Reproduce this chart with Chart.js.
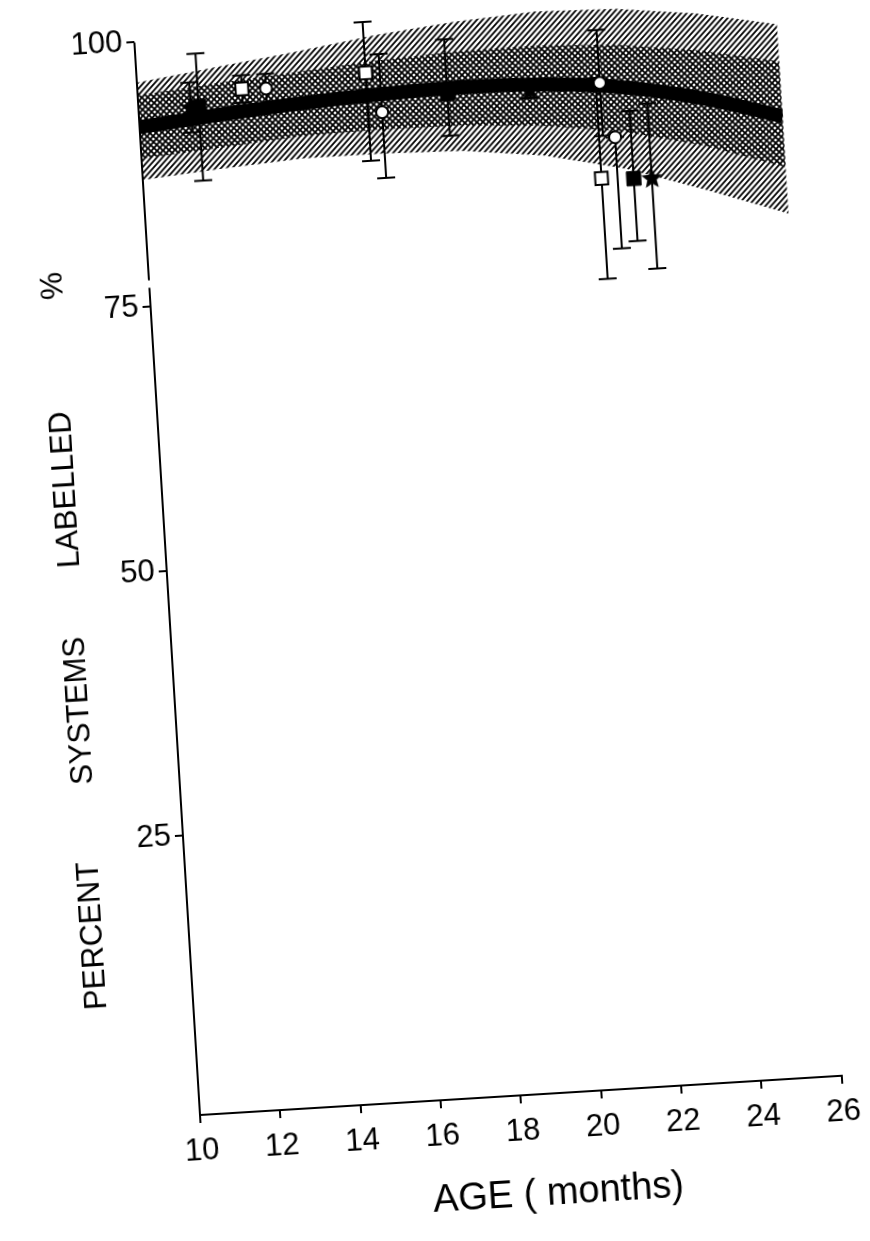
<!DOCTYPE html>
<html>
<head>
<meta charset="utf-8">
<script src="https://cdn.jsdelivr.net/npm/chart.js@4.4.1/dist/chart.umd.min.js"></script>
<style>
  html, body { margin: 0; padding: 0; background: #fff; overflow: hidden; }
  /* la figura original viene escaneada algo girada */
  #marco { position: absolute; left: 0; top: 0; width: 870px; height: 1241px;
           transform: rotate(-3.5deg); transform-origin: 200px 1115px; }
</style>
</head>
<body>
<div id="marco"><canvas id="grafico" width="870" height="1241"></canvas></div>
<script>
// Banda y curva media
const bandaX        = [10, 12, 14, 16, 18, 20, 22, 24, 26];
const curvaMedia    = [92.0, 92.7, 93.3, 93.7, 93.9, 93.7, 93.0, 91.5, 89.3];
const bandaAlta     = [96.2, 97.2, 98.2, 99.3, 100.1, 100.6, 100.4, 99.5, 98.0];
const bandaBaja     = [87.0, 87.6, 88.1, 88.1, 87.9, 87.0, 85.3, 82.8, 80.1];
const bandaIntAlta  = [95.0, 95.7, 96.3, 96.9, 97.3, 97.4, 97.0, 96.0, 94.5];
const bandaIntBaja  = [89.0, 89.6, 90.2, 90.4, 90.3, 89.8, 88.8, 87.0, 84.5];

// Puntos con barras de error
const cuadLlenoX    = [11.5, 17.7, 22.2];
const cuadLlenoY    = [93.6, 93.4, 84.3];
const cuadLlenoBajo = [86.6, 89.4, 78.4];
const cuadLlenoAlto = [98.6, 98.5, 90.7];

const cuadVacioX    = [12.6, 15.7, 21.4];
const cuadVacioY    = [95.0, 95.8, 84.5];
const cuadVacioBajo = [93.7, 87.5, 75.0];
const cuadVacioAlto = [96.3, 100.6, 94.0];

const circuloX      = [13.2, 16.05, 21.5, 21.8];
const circuloY      = [94.9, 92.0, 93.5, 88.3];
const circuloBajo   = [93.5, 85.8, 88.5, 77.8];
const circuloAlto   = [96.3, 97.5, 98.5, 88.3];

const estrellaX     = [11.3, 19.75, 22.65];
const estrellaY     = [93.5, 93.2, 84.2];
const estrellaBajo  = [91.2, 92.5, 75.7];
const estrellaAlto  = [95.9, 94.0, 91.3];

// Ejes
const ticksX = [10, 12, 14, 16, 18, 20, 22, 24, 26];
const ticksY = [25, 50, 75, 100];
const corteEjeY = [76.8, 77.5];

const puntos = (xs, ys) => xs.map((x, i) => ({ x: x, y: ys[i] }));

function trama(sentido) {
  const c = document.createElement('canvas');
  c.width = c.height = 6;
  const g = c.getContext('2d');
  g.strokeStyle = '#000';
  g.lineWidth = 1.8;
  g.beginPath();
  if (sentido > 0) {
    g.moveTo(0, 6); g.lineTo(6, 0);
    g.moveTo(-1, 1); g.lineTo(1, -1);
    g.moveTo(5, 7); g.lineTo(7, 5);
  } else {
    g.moveTo(0, 0); g.lineTo(6, 6);
    g.moveTo(-1, 5); g.lineTo(1, 7);
    g.moveTo(5, -1); g.lineTo(7, 1);
  }
  g.stroke();
  return g.createPattern(c, 'repeat');
}

function dibujoEstrella(r) {
  const c = document.createElement('canvas');
  c.width = c.height = 2 * r + 2;
  const g = c.getContext('2d');
  g.fillStyle = '#000';
  g.beginPath();
  for (let k = 0; k < 10; k++) {
    const a = -Math.PI / 2 + k * Math.PI / 5;
    const rr = k % 2 ? r * 0.45 : r;
    g.lineTo(r + 1 + rr * Math.cos(a), r + 1 + rr * Math.sin(a));
  }
  g.closePath();
  g.fill();
  return c;
}

const series = [
  { x: cuadLlenoX, bajo: cuadLlenoBajo, alto: cuadLlenoAlto },
  { x: cuadVacioX, bajo: cuadVacioBajo, alto: cuadVacioAlto },
  { x: circuloX, bajo: circuloBajo, alto: circuloAlto },
  { x: estrellaX, bajo: estrellaBajo, alto: estrellaAlto },
];

// barras de error: se pintan justo despues de la curva media
const barrasError = {
  id: 'barrasError',
  afterDatasetDraw(chart, args) {
    if (args.index !== 4) return;
    const { ctx, scales: { x, y } } = chart;
    ctx.save();
    ctx.strokeStyle = '#000';
    ctx.lineWidth = 2;
    series.forEach((s) => {
      s.x.forEach((xv, i) => {
        const px = x.getPixelForValue(xv);
        const pa = y.getPixelForValue(s.alto[i]);
        const pb = y.getPixelForValue(s.bajo[i]);
        ctx.beginPath();
        ctx.moveTo(px, pa); ctx.lineTo(px, pb);
        ctx.moveTo(px - 9, pa); ctx.lineTo(px + 9, pa);
        ctx.moveTo(px - 9, pb); ctx.lineTo(px + 9, pb);
        ctx.stroke();
      });
    });
    ctx.restore();
  },
};

// eje Y con corte
const ejeCortado = {
  id: 'ejeCortado',
  afterDatasetsDraw(chart) {
    const { ctx, scales: { y } } = chart;
    const px = y.right;
    ctx.save();
    ctx.strokeStyle = '#000';
    ctx.lineWidth = 2;
    ctx.beginPath();
    ctx.moveTo(px, y.getPixelForValue(y.min));
    ctx.lineTo(px, y.getPixelForValue(corteEjeY[0]));
    ctx.moveTo(px, y.getPixelForValue(corteEjeY[1]));
    ctx.lineTo(px, y.getPixelForValue(100));
    ctx.stroke();
    ctx.restore();
  },
};

const fuente = 'Liberation Sans, Arial, sans-serif';

new Chart(document.getElementById('grafico'), {
  type: 'line',
  data: {
    datasets: [
      { data: puntos(bandaX, bandaBaja), borderWidth: 0, pointRadius: 0, fill: false, order: 4 },
      { data: puntos(bandaX, bandaAlta), borderWidth: 0, pointRadius: 0, fill: '-1', backgroundColor: trama(1), order: 4 },
      { data: puntos(bandaX, bandaIntBaja), borderWidth: 0, pointRadius: 0, fill: false, order: 3 },
      { data: puntos(bandaX, bandaIntAlta), borderWidth: 0, pointRadius: 0, fill: '-1', backgroundColor: trama(-1), order: 3 },
      { data: puntos(bandaX, curvaMedia), borderColor: '#000', borderWidth: 14, pointRadius: 0, tension: 0.4, fill: false, order: 2 },
      { data: puntos(cuadLlenoX, cuadLlenoY), showLine: false, pointStyle: 'rect', pointRadius: 10,
        backgroundColor: '#000', borderColor: '#000', borderWidth: 1, order: 1 },
      { data: puntos(cuadVacioX, cuadVacioY), showLine: false, pointStyle: 'rect', pointRadius: 9,
        backgroundColor: '#fff', borderColor: '#000', borderWidth: 2, order: 1 },
      { data: puntos(circuloX, circuloY), showLine: false, pointStyle: 'circle', pointRadius: 6,
        backgroundColor: '#fff', borderColor: '#000', borderWidth: 2, order: 1 },
      { data: puntos(estrellaX, estrellaY), showLine: false, pointStyle: dibujoEstrella(11), order: 1 },
    ],
  },
  options: {
    responsive: false,
    animation: false,
    events: [],
    layout: { padding: { left: 70, right: 24, top: 33, bottom: 1 } },
    plugins: { legend: { display: false }, tooltip: { enabled: false } },
    scales: {
      x: {
        type: 'linear',
        min: 10,
        max: 26,
        afterBuildTicks: (s) => { s.ticks = ticksX.map((v) => ({ value: v })); },
        afterFit: (s) => { s.height = 125; },
        border: { color: '#000', width: 2 },
        grid: { drawOnChartArea: false, drawTicks: true, tickLength: 8, color: '#000', lineWidth: 2 },
        ticks: { color: '#000', padding: 10, maxRotation: 0, font: { family: fuente, size: 31 } },
        title: {
          display: true,
          text: '      AGE ( months)',
          color: '#000',
          font: { family: fuente, size: 38 },
          padding: { top: 0, bottom: 2 },
        },
      },
      y: {
        min: -1.4,
        max: 100.7,
        afterBuildTicks: (s) => { s.ticks = ticksY.map((v) => ({ value: v })); },
        afterFit: (s) => { s.width = 130; },
        border: { display: false },
        grid: { drawOnChartArea: false, drawTicks: true, tickLength: 8, color: '#000', lineWidth: 2 },
        ticks: { color: '#000', padding: 4, font: { family: fuente, size: 31 } },
        title: {
          display: true,
          text: 'PERCENT         SYSTEMS        LABELLED             %              ',
          color: '#000',
          font: { family: fuente, size: 31 },
          padding: { top: 16, bottom: 0 },
        },
      },
    },
  },
  plugins: [barrasError, ejeCortado],
});
</script>
</body>
</html>
